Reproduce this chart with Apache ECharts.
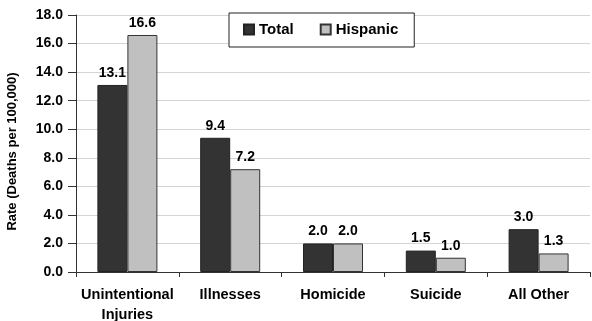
<!DOCTYPE html>
<html>
<head>
<meta charset="utf-8">
<script src="https://cdn.jsdelivr.net/npm/echarts@6/dist/echarts.min.js"></script>
<style>
  html, body { margin: 0; padding: 0; background: #fff; }
  #chart { width: 592px; height: 321px; }
</style>
</head>
<body>
<div id="chart"></div>
<script>
// Death rates by cause, total vs. Hispanic
const categories = ['Unintentional\nInjuries', 'Illnesses', 'Homicide', 'Suicide', 'All Other'];
const totalRates = [13.1, 9.4, 2.0, 1.5, 3.0];
const hispanicRates = [16.6, 7.2, 2.0, 1.0, 1.3];
const yTicks = [0, 2, 4, 6, 8, 10, 12, 14, 16, 18];

const FONT = 'Liberation Sans, Arial, sans-serif';
const chart = echarts.init(document.getElementById('chart'), null, { renderer: 'canvas' });

const labelStyle = {
  show: true,
  position: 'top',
  distance: 5,
  fontFamily: FONT,
  fontWeight: 'bold',
  fontSize: 14,
  color: '#000',
  formatter: p => p.value.toFixed(1)
};

chart.setOption({
  animation: false,
  backgroundColor: '#fff',
  grid: {
    left: 76, right: 2, top: 15, bottom: 49,
    containLabel: false,
    outerBoundsMode: 'none'
  },
  legend: {
    data: ['Total', 'Hispanic'],
    left: 229,
    top: 13,
    width: 186,
    height: 35,
    padding: [9, 16, 10, 14],
    itemGap: 26,
    itemWidth: 10,
    itemHeight: 10,
    icon: 'rect',
    backgroundColor: '#fff',
    borderColor: '#222',
    borderWidth: 1,
    textStyle: { fontFamily: FONT, fontWeight: 'bold', fontSize: 15, color: '#000' }
  },
  xAxis: {
    type: 'category',
    data: categories,
    axisLine: { lineStyle: { color: '#333', width: 1 } },
    axisTick: { show: true, alignWithLabel: false, length: 5, lineStyle: { color: '#333' } },
    axisLabel: {
      fontFamily: FONT, fontWeight: 'bold', fontSize: 14.5, color: '#000',
      margin: 13, lineHeight: 20, interval: 0
    }
  },
  yAxis: {
    type: 'value',
    min: yTicks[0],
    max: yTicks[yTicks.length - 1],
    interval: 2,
    name: 'Rate (Deaths per 100,000)',
    nameLocation: 'middle',
    nameGap: 57,
    nameRotate: 90,
    nameTextStyle: {
      fontFamily: FONT, fontWeight: 'bold', fontSize: 13, color: '#000',
      padding: [0, 16, 0, 0]
    },
    axisLine: { show: true, lineStyle: { color: '#333', width: 1 } },
    axisTick: { show: true, inside: false, length: 8, lineStyle: { color: '#333' } },
    axisLabel: {
      fontFamily: FONT, fontWeight: 'bold', fontSize: 14, color: '#000', margin: 13,
      formatter: v => v.toFixed(1)
    },
    splitLine: { show: true, lineStyle: { color: '#d4d4d4', width: 1 } }
  },
  series: [
    {
      name: 'Total',
      type: 'bar',
      data: totalRates,
      barWidth: 30,
      barGap: '0%',
      itemStyle: { color: '#333333', borderColor: '#222', borderWidth: 1 },
      label: labelStyle
    },
    {
      name: 'Hispanic',
      type: 'bar',
      data: hispanicRates,
      barWidth: 30,
      itemStyle: { color: '#c0c0c0', borderColor: '#333', borderWidth: 1 },
      label: labelStyle
    }
  ]
});
</script>
</body>
</html>
